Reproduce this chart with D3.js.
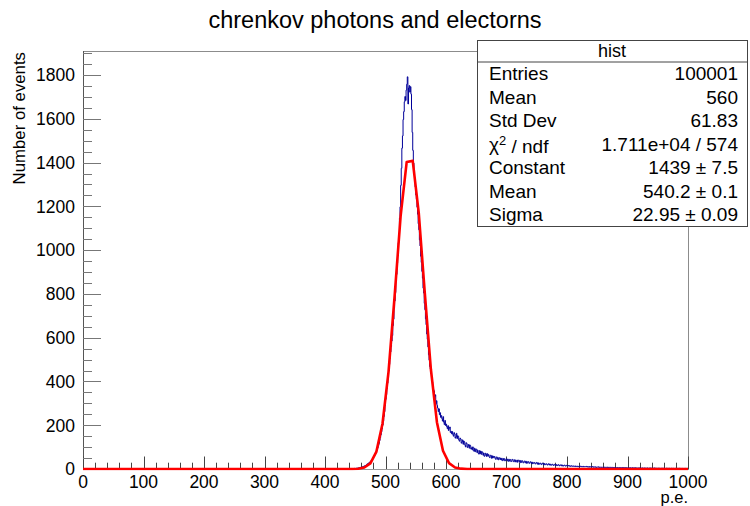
<!DOCTYPE html>
<html>
<head>
<meta charset="utf-8">
<script src="https://cdn.jsdelivr.net/npm/d3@7"></script>
<style>
  html, body { margin: 0; padding: 0; background: #fff; }
  svg { display: block; font-family: "Liberation Sans", Arial, Helvetica, sans-serif; }
</style>
</head>
<body>
<svg id="chart" width="750" height="506"></svg>
<script>
// ---- labels ----
const chartTitle = "chrenkov photons and electorns";
const xAxisTitle = "p.e.";
const yAxisTitle = "Number of events";

// ---- axis ranges and tick labels ----
const xRange = [0, 1000];
const yRange = [0, 1910];
const xTickLabels = [0, 100, 200, 300, 400, 500, 600, 700, 800, 900, 1000];
const yTickLabels = [0, 200, 400, 600, 800, 1000, 1200, 1400, 1600, 1800];
const xMinorStep = 20;
const yMinorStep = 50;

// ---- histogram: 1000 bins of width 1 over [0, 1000); bins below 430 are empty ----
const nBins = 1000;
const firstFilledBin = 430;
const counts = [
  0,1,0,0,1,0,0,1,1,0,            // 430
  1,0,1,2,0,1,2,1,3,2,            // 440
  2,3,4,3,5,4,6,5,7,8,            // 450
  7,9,10,12,11,14,16,15,19,21,    // 460
  24,22,27,31,29,35,38,42,45,51,  // 470
  55,60,64,71,77,83,92,98,108,117,          // 480
  130,144,156,170,184,200,218,240,262,290,  // 490
  318,340,367,392,420,448,478,505,535,560,  // 500
  585,610,655,684,735,768,806,858,889,941,  // 510
  975,1034,1077,1146,1198,1296,1374,1466,1522,1597,  // 520
  1633,1678,1702,1684,1731,1758,1792,1668,1741,1752, // 530
  1722,1747,1713,1642,1538,1456,1398,1364,1318,1289, // 540
  1252,1233,1196,1164,1121,1093,1047,1019,972,944,   // 550
  903,872,826,804,757,728,686,659,617,593,  // 560
  558,522,497,468,457,436,421,398,383,362,  // 570
  356,331,339,298,312,291,279,262,275,248,  // 580
  257,236,244,230,219,239,214,203,222,199,  // 590
  205,193,184,198,176,186,192,167,172,161,  // 600
  171,158,150,166,160,141,147,163,139,152,  // 610
  149,132,127,141,137,118,124,133,113,128,  // 620
  124,109,101,120,116,98,104,112,95,110,    // 630
  106,91,97,88,101,84,81,95,79,90,          // 640
  91,75,86,72,68,84,70,82,67,79,            // 650
  76,63,73,58,61,72,68,57,70,60,            // 660
  66,55,52,63,62,49,60,50,58,53,            // 670
  57,47,44,55,54,45,42,52,51,43,            // 680
  50,41,49,38,40,48,47,37,39,46,            // 690
  46,37,45,35,36,44,43,34,35,44,            // 700
  43,34,33,42,41,32,33,41,31,40,            // 710
  40,31,39,29,30,38,37,29,28,36,            // 720
  36,28,35,26,27,34,33,26,27,33,            // 730
  32,25,31,24,26,30,29,23,24,30,            // 740
  29,22,28,21,23,27,26,20,22,27,            // 750
  26,20,25,19,20,24,23,18,19,24,            // 760
  23,18,22,17,18,22,21,16,17,21,            // 770
  21,16,20,15,16,20,19,14,16,19,            // 780
  19,14,18,13,15,18,17,13,14,17,            // 790
  15,14,16,13,15,12,14,15,12,13,            // 800
  14,12,13,11,14,12,11,13,10,12,            // 810
  12,11,13,10,12,11,9,12,10,11,             // 820
  11,10,12,9,11,10,8,11,9,10,               // 830
  10,9,11,8,10,9,8,10,7,9,                  // 840
  9,8,10,7,9,8,7,9,8,7,                     // 850
  8,9,7,8,6,8,7,9,6,8,                      // 860
  7,8,6,7,8,6,7,5,7,6,                      // 870
  7,6,5,7,6,5,6,7,5,6,                      // 880
  6,5,7,5,6,4,6,5,6,5,                      // 890
  5,6,4,5,6,5,4,5,6,4,                      // 900
  5,4,6,5,4,5,3,5,4,5,                      // 910
  4,5,3,4,5,4,4,3,5,4,                      // 920
  4,3,5,4,3,4,4,5,3,4,                      // 930
  4,3,4,3,5,3,4,3,4,3,                      // 940
  3,4,3,4,2,4,3,3,4,3,                      // 950
  3,4,2,3,4,3,3,2,4,3,                      // 960
  3,2,3,4,2,3,3,2,3,3,                      // 970
  2,3,3,2,3,2,4,2,3,2,                      // 980
  3,2,2,3,2,3,2,2,3,2                       // 990
];

// ---- gaussian fit result ----
const fitConstant = 1439;
const fitMean = 540.2;
const fitSigma = 22.95;

// ---- statistics box ----
const statsName = "hist";
const statsLabels = ["Entries", "Mean", "Std Dev", "chi2ndf", "Constant", "Mean", "Sigma"];
const statsValues = ["100001", "560", "61.83", "1.711e+04 / 574", "1439 \u00b1 7.5", "540.2 \u00b1 0.1", "22.95 \u00b1 0.09"];

// ---- layout ----
const frame = { left: 83, right: 688, top: 51, bottom: 469 };

const svg = d3.select("#chart");

const x = d3.scaleLinear().domain(xRange).range([frame.left, frame.right]);
const y = d3.scaleLinear().domain(yRange).range([frame.bottom, frame.top]);

svg.append("defs").append("clipPath").attr("id", "frameClip")
  .append("rect")
  .attr("x", frame.left).attr("y", frame.top)
  .attr("width", frame.right - frame.left)
  .attr("height", frame.bottom - frame.top + 1.5);

// frame
svg.append("rect")
  .attr("x", frame.left + 0.5).attr("y", frame.top + 0.5)
  .attr("width", frame.right - frame.left).attr("height", frame.bottom - frame.top)
  .attr("fill", "none").attr("stroke", "#8c8c8c").attr("stroke-width", 1);

// axis lines
svg.append("line")
  .attr("x1", frame.left + 0.5).attr("x2", frame.left + 0.5)
  .attr("y1", frame.top).attr("y2", frame.bottom + 0.5)
  .attr("stroke", "#555");
svg.append("line")
  .attr("x1", frame.left).attr("x2", frame.right + 0.5)
  .attr("y1", frame.bottom + 0.5).attr("y2", frame.bottom + 0.5)
  .attr("stroke", "#999");

// x ticks (pointing up into the frame)
const xMinor = d3.range(xRange[0], xRange[1] + 1e-9, xMinorStep).filter(v => !xTickLabels.includes(v));
const ticksG = svg.append("g").attr("stroke", "#444").attr("stroke-width", 1);
xTickLabels.forEach(v => {
  const px = Math.round(x(v)) + 0.5;
  ticksG.append("line").attr("x1", px).attr("x2", px)
    .attr("y1", frame.bottom).attr("y2", frame.bottom - 12.5);
});
xMinor.forEach(v => {
  const px = Math.round(x(v)) + 0.5;
  ticksG.append("line").attr("x1", px).attr("x2", px)
    .attr("y1", frame.bottom).attr("y2", frame.bottom - 6.3);
});

// y ticks (pointing right into the frame)
const yMinor = d3.range(yRange[0], yRange[1], yMinorStep).filter(v => !yTickLabels.includes(v));
yTickLabels.forEach(v => {
  const py = Math.round(y(v)) + 0.5;
  ticksG.append("line").attr("x1", frame.left).attr("x2", frame.left + 18)
    .attr("y1", py).attr("y2", py).attr("stroke", "#777");
});
yMinor.forEach(v => {
  const py = Math.round(y(v)) + 0.5;
  ticksG.append("line").attr("x1", frame.left).attr("x2", frame.left + 9)
    .attr("y1", py).attr("y2", py).attr("stroke", "#777");
});

// tick labels
const labelSize = 17.5;
svg.append("g").selectAll("text").data(xTickLabels).join("text")
  .attr("x", d => x(d)).attr("y", 488)
  .attr("text-anchor", "middle").attr("font-size", labelSize).attr("fill", "#000")
  .text(d => d);
svg.append("g").selectAll("text").data(yTickLabels).join("text")
  .attr("x", 75).attr("y", d => y(d)).attr("dy", "0.36em")
  .attr("text-anchor", "end").attr("font-size", labelSize).attr("fill", "#000")
  .text(d => d);

// axis titles
svg.append("text")
  .attr("x", frame.right).attr("y", 503)
  .attr("text-anchor", "end").attr("font-size", 16.5)
  .text(xAxisTitle);
svg.append("text")
  .attr("transform", `translate(25, ${frame.top + 1}) rotate(-90)`)
  .attr("text-anchor", "end").attr("font-size", 16.8)
  .text(yAxisTitle);

// chart title
svg.append("text")
  .attr("x", 375).attr("y", 28)
  .attr("text-anchor", "middle").attr("font-size", 23.5)
  .text(chartTitle);

// histogram as a step outline
const plot = svg.append("g").attr("clip-path", "url(#frameClip)");
const binPoints = d3.range(nBins).map(b => [b, b >= firstFilledBin ? counts[b - firstFilledBin] : 0]);
binPoints.push([nBins, binPoints[nBins - 1][1]]);
const binWidth = (xRange[1] - xRange[0]) / nBins;
const histLine = d3.line()
  .x(d => x(xRange[0] + d[0] * binWidth))
  .y(d => y(d[1]))
  .curve(d3.curveStepAfter);
plot.append("path")
  .datum(binPoints)
  .attr("d", histLine)
  .attr("fill", "none")
  .attr("stroke", "#000099")
  .attr("stroke-width", 1);

// fitted gaussian, evaluated on a 10-unit grid
const fitX = [xRange[0]].concat(d3.range(5, 1000, 10), [xRange[1]]);
const gauss = v => fitConstant * Math.exp(-0.5 * Math.pow((v - fitMean) / fitSigma, 2));
plot.append("path")
  .datum(fitX.map(v => [v, gauss(v)]))
  .attr("d", d3.line().x(d => x(d[0])).y(d => y(d[1])))
  .attr("fill", "none")
  .attr("stroke", "#ff0000")
  .attr("stroke-width", 2.6)
  .attr("stroke-linejoin", "round");

// statistics box
const box = { x: 477, y: 40, w: 270, h: 186, header: 21.5 };
const statsG = svg.append("g");
statsG.append("rect")
  .attr("x", box.x + 0.5).attr("y", box.y + 0.5)
  .attr("width", box.w).attr("height", box.h)
  .attr("fill", "#fff").attr("stroke", "#444");
statsG.append("line")
  .attr("x1", box.x).attr("x2", box.x + box.w)
  .attr("y1", box.y + box.header + 0.5).attr("y2", box.y + box.header + 0.5)
  .attr("stroke", "#444");
const statsSize = 19;
statsG.append("text")
  .attr("x", box.x + box.w / 2).attr("y", box.y + box.header / 2).attr("dy", "0.36em")
  .attr("text-anchor", "middle").attr("font-size", 18)
  .text(statsName);
const rowH = (box.h - box.header) / statsLabels.length;
statsLabels.forEach((lab, i) => {
  const cy = box.y + box.header + rowH * (i + 0.5);
  const t = statsG.append("text")
    .attr("x", box.x + 12).attr("y", cy).attr("dy", "0.36em")
    .attr("font-size", statsSize);
  if (lab === "chi2ndf") {
    t.append("tspan").text("\u03c7");
    t.append("tspan").attr("dy", "-0.45em").attr("font-size", statsSize * 0.68).text("2");
    t.append("tspan").attr("dy", "0.45em").text(" / ndf");
  } else {
    t.text(lab);
  }
  statsG.append("text")
    .attr("x", box.x + box.w - 9).attr("y", cy).attr("dy", "0.36em")
    .attr("text-anchor", "end").attr("font-size", statsSize)
    .text(statsValues[i]);
});
</script>
</body>
</html>
